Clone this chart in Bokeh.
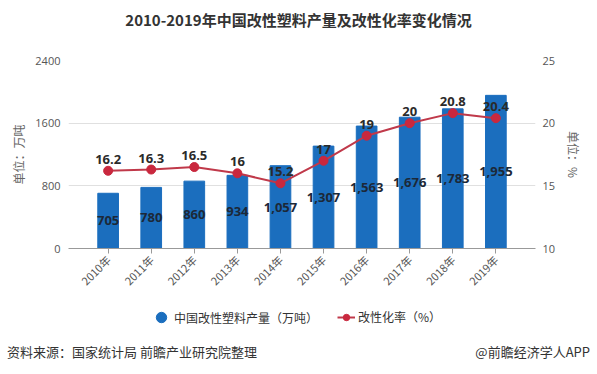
from bokeh.plotting import figure
from bokeh.models import (FactorRange, Range1d, LinearAxis, FixedTicker,
                          Legend, LegendItem, ColumnDataSource, Div)
from bokeh.layouts import column
from bokeh.core.properties import value
from bokeh.embed import file_html
from bokeh.resources import INLINE
import math

# ---- data ----
years = ["2010年", "2011年", "2012年", "2013年", "2014年",
         "2015年", "2016年", "2017年", "2018年", "2019年"]
output = [705, 780, 860, 934, 1057, 1307, 1563, 1676, 1783, 1955]
rate = [16.2, 16.3, 16.5, 16, 15.2, 17, 19, 20, 20.8, 20.4]
left_ticks = [0, 800, 1600, 2400]
right_ticks = [10, 15, 20, 25]
title_text = "2010-2019年中国改性塑料产量及改性化率变化情况"
bar_name = "中国改性塑料产量（万吨）"
line_name = "改性化率（%）"
left_label = "单位：万吨"
right_label = "单位：%"
source_text = "资料来源：国家统计局 前瞻产业研究院整理"
credit_text = "@前瞻经济学人APP"

BAR = "#1b6ebe"
LINE = "#c0394a"
MARK = "#c9283e"
CJK = "Noto Sans CJK SC"

src = ColumnDataSource(dict(
    x=years, out=output, half=[v / 2 for v in output],
    out_txt=[f"{v:,}" for v in output],
    rate=rate, rate_txt=[f"{v:g}" for v in rate],
))

xr = FactorRange(factors=years, range_padding=0.42,
                 range_padding_units="absolute")

# ---- title ----
title_div = Div(
    text=(f'<div style="width:597px;height:40px;line-height:40px;'
          f'text-align:center;font-family:\'{CJK}\';font-size:15px;'
          f'font-weight:bold;color:#333333;">{title_text}</div>'),
    width=597, height=40, margin=0)

# ---- main chart ----
p = figure(width=597, height=260, output_backend="svg", toolbar_location=None,
           x_range=xr, y_range=Range1d(0, 2400),
           min_border_left=68, min_border_right=62,
           min_border_top=20, min_border_bottom=52)
p.extra_y_ranges = {"rate": Range1d(10, 25)}
p.outline_line_color = None

p.vbar(x="x", top="out", width=0.48, source=src, color=BAR)
p.text(x="x", y="half", text="out_txt", source=src, text_align="center",
       text_baseline="middle", text_font=value("Open Sans"),
       text_font_size="13px", text_font_style="bold", text_color="#1c2838")

p.line(x="x", y="rate", source=src, y_range_name="rate",
       line_color=LINE, line_width=2)
p.scatter(x="x", y="rate", source=src, y_range_name="rate",
          marker="circle", size=9, fill_color=MARK, line_color=MARK)
p.text(x="x", y="rate", text="rate_txt", source=src, y_range_name="rate",
       y_offset=-7, text_align="center", text_baseline="bottom",
       text_font=value("Open Sans"), text_font_size="13px",
       text_font_style="bold", text_color="#2a2a2a")

xa = p.xaxis[0]
xa.axis_line_color = "#999999"
xa.major_tick_line_color = "#999999"
xa.major_tick_out = 5
xa.major_tick_in = 0
xa.major_label_orientation = math.pi / 4
xa.major_label_text_font = CJK
xa.major_label_text_font_size = "11px"
xa.major_label_text_color = "#555555"
xa.major_label_standoff = 4

ya = p.yaxis[0]
ya.ticker = FixedTicker(ticks=left_ticks)
ya.axis_line_color = None
ya.major_tick_line_color = None
ya.minor_tick_line_color = None
ya.major_tick_out = 0
ya.major_tick_in = 0
ya.major_label_standoff = 8
ya.major_label_text_font = "Open Sans"
ya.major_label_text_font_size = "11px"
ya.major_label_text_color = "#555555"
ya.axis_label = left_label
ya.axis_label_text_font = CJK
ya.axis_label_text_font_size = "12px"
ya.axis_label_text_font_style = "normal"
ya.axis_label_text_color = "#666666"
ya.axis_label_standoff = 5

ra = LinearAxis(y_range_name="rate", ticker=FixedTicker(ticks=right_ticks))
ra.axis_line_color = None
ra.major_tick_line_color = None
ra.minor_tick_line_color = None
ra.major_tick_out = 0
ra.major_tick_in = 0
ra.major_label_standoff = 7
ra.major_label_text_font = "Open Sans"
ra.major_label_text_font_size = "11px"
ra.major_label_text_color = "#555555"
ra.axis_label = right_label
ra.axis_label_text_font = CJK
ra.axis_label_text_font_size = "12px"
ra.axis_label_text_font_style = "normal"
ra.axis_label_text_color = "#666666"
ra.axis_label_standoff = 7
p.add_layout(ra, "right")

p.xgrid.grid_line_color = None
p.ygrid.grid_line_color = "#e0e0e0"
p.ygrid.ticker = FixedTicker(ticks=left_ticks)

# ---- legend strip (legend renderers sit outside this strip's view) ----
lg = figure(width=597, height=34, output_backend="svg", toolbar_location=None,
            x_range=xr, y_range=Range1d(0, 1),
            x_axis_type=None, y_axis_type=None,
            min_border_left=68, min_border_right=62,
            min_border_top=0, min_border_bottom=0)
lg.outline_line_color = None
lg.grid.grid_line_color = None
r_bar = lg.scatter(x="x", y="out", source=src, marker="circle", size=12,
                   fill_color=BAR, line_color=BAR)
r_line = lg.line(x="x", y="out", source=src, line_color=LINE, line_width=2)
r_mark = lg.scatter(x="x", y="out", source=src, marker="circle", size=8,
                    fill_color=MARK, line_color=MARK)
common = dict(orientation="horizontal", padding=0, margin=0,
              border_line_alpha=0, background_fill_alpha=0,
              label_text_font=CJK, label_text_font_size="12px",
              label_text_color="#333333")
legend1 = Legend(items=[LegendItem(label=bar_name, renderers=[r_bar])],
                 location=(80, 4), glyph_width=26, glyph_height=26,
                 label_standoff=0, **common)
legend2 = Legend(items=[LegendItem(label=line_name,
                                   renderers=[r_line, r_mark])],
                 location=(269, 9), glyph_width=18, glyph_height=16,
                 label_standoff=3, **common)
lg.add_layout(legend1)
lg.add_layout(legend2)

# ---- footer ----
footer = Div(
    text=(f'<div style="display:flex;justify-content:space-between;'
          f'align-items:center;width:590px;height:36px;padding-left:7px;'
          f'font-family:\'{CJK}\';font-size:13px;color:#333333;">'
          f'<span>{source_text}</span><span>{credit_text}</span></div>'),
    width=597, height=40, margin=0)

layout = column(title_div, p, lg, footer, spacing=0)
open("out.html", "w").write(file_html(layout, INLINE))
